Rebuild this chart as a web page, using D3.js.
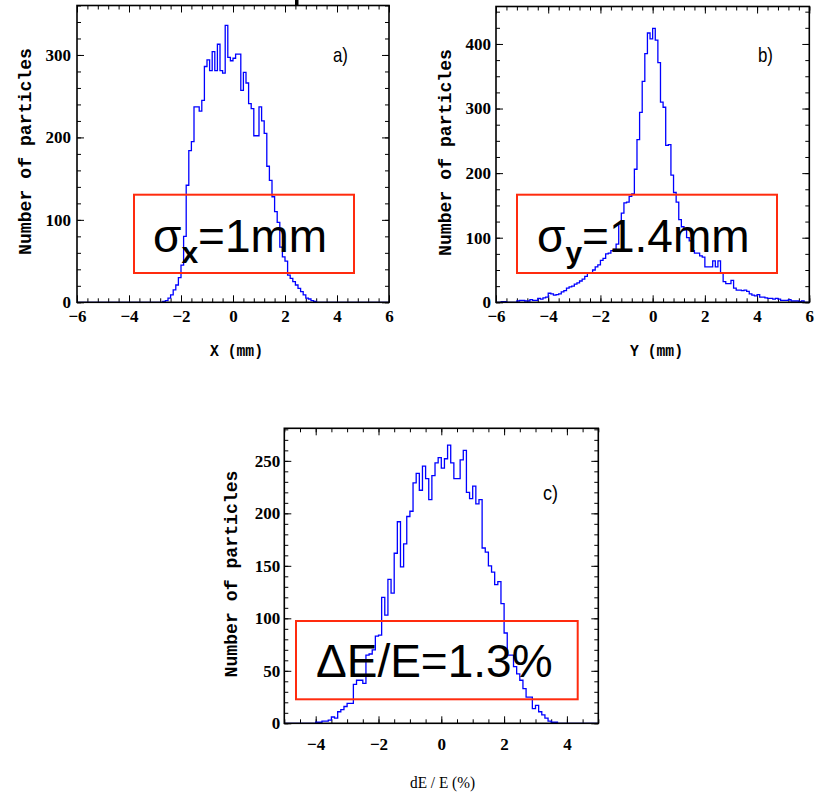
<!DOCTYPE html>
<html>
<head>
<meta charset="utf-8">
<script src="https://cdn.jsdelivr.net/npm/d3@7"></script>
<style>
  body { margin: 0; background: #fff; }
  svg { display: block; }
</style>
</head>
<body>
<script>

// histogram bin width (same for all three panels)
var binWidth = 0.1;

// panel a) horizontal position X (mm), first bin starts at xStartA
var xStartA = -2.7;
var countsA = [1, 2, 5, 9, 15, 21, 30, 45, 80, 142,
  184, 195, 237, 237, 232, 245, 286, 294, 281, 304,
  281, 313, 281, 278, 336, 297, 293, 296, 301, 301,
  257, 279, 266, 241, 235, 202, 202, 237, 220, 205,
  165, 148, 128, 110, 97, 67, 55, 50, 33, 29,
  25, 21, 17, 13, 9, 5, 4, 2, 1];

// panel b) vertical position Y (mm)
var xStartB = -5.8;
var countsB = [1, 1, 0, 0, 0, 0, 2, 3, 3, 2,
  2, 4, 3, 3, 6, 5, 7, 8, 14, 13,
  11, 12, 13, 16, 18, 22, 24, 25, 28, 30,
  33, 36, 40, 45, 46, 50, 55, 58, 65, 68,
  75, 76, 80, 82, 90, 122, 138, 154, 155, 164,
  168, 206, 252, 294, 342, 385, 417, 408, 424, 406,
  371, 310, 302, 243, 244, 197, 170, 155, 128, 117,
  112, 100, 95, 80, 76, 76, 72, 70, 55, 55,
  55, 64, 55, 64, 45, 32, 29, 29, 34, 22,
  19, 19, 18, 19, 17, 13, 11, 10, 12, 8,
  8, 7, 6, 6, 5, 6, 5, 3, 3, 3,
  4, 2, 2, 2, 1, 2];

// panel c) energy spread dE / E (%)
var xStartC = -4.0;
var countsC = [1, 1, 2, 2, 3, 6, 5, 11, 13, 16,
  19, 19, 37, 41, 41, 38, 65, 66, 70, 83,
  84, 120, 103, 137, 124, 162, 192, 149, 171, 197,
  202, 229, 238, 222, 245, 233, 213, 236, 248, 253,
  243, 252, 265, 248, 233, 233, 251, 260, 220, 214,
  226, 209, 213, 167, 163, 150, 144, 132, 135, 114,
  86, 65, 65, 54, 47, 41, 33, 25, 25, 14,
  17, 11, 8, 5, 2, 1, 1];

// tick labels
var xTicksAB = [-6, -4, -2, 0, 2, 4, 6];
var xTicksC = [-4, -2, 0, 2, 4];
var yTicksA = [0, 100, 200, 300];
var yTicksB = [0, 100, 200, 300, 400];
var yTicksC = [0, 50, 100, 150, 200, 250];

// annotation texts
var yTitle = "Number of particles";
var xTitles = ["X (mm)", "Y (mm)", "dE / E (%)"];
var panelTags = ["a)", "b)", "c)"];

var width = 820,
    height = 796;

var svg = d3.select("body")
  .append("svg")
  .attr("width", width)
  .attr("height", height);

svg.append("rect")
  .attr("width", width)
  .attr("height", height)
  .attr("fill", "#fff");

var majorLen = 7,
    minorLen = 4;

// draw one framed histogram panel
function drawPanel(p){

    var x = d3.scaleLinear().domain(p.xDomain).range([p.left, p.right]);
    var y = d3.scaleLinear().domain(p.yDomain).range([p.bottom, p.top]);

    var g = svg.append("g");

    function tidy(sel){
        sel.select(".domain").remove();
        sel.selectAll("line").attr("stroke", "#000").attr("stroke-width", 1);
        sel.attr("font-family", "'Liberation Serif', 'DejaVu Serif', serif")
          .attr("font-weight", "bold")
          .attr("font-size", 17);
        sel.selectAll("text").attr("fill", "#000");
    }

    // minor ticks, four sides, pointing inward
    g.append("g").attr("transform", "translate(0," + p.bottom + ")")
      .call(d3.axisBottom(x).tickValues(p.xMinor).tickSize(-minorLen).tickFormat(""))
      .call(tidy);
    g.append("g").attr("transform", "translate(0," + p.top + ")")
      .call(d3.axisTop(x).tickValues(p.xMinor).tickSize(-minorLen).tickFormat(""))
      .call(tidy);
    g.append("g").attr("transform", "translate(" + p.left + ",0)")
      .call(d3.axisLeft(y).tickValues(p.yMinor).tickSize(-minorLen).tickFormat(""))
      .call(tidy);
    g.append("g").attr("transform", "translate(" + p.right + ",0)")
      .call(d3.axisRight(y).tickValues(p.yMinor).tickSize(-minorLen).tickFormat(""))
      .call(tidy);

    // major ticks with labels
    g.append("g").attr("transform", "translate(0," + p.bottom + ")")
      .call(d3.axisBottom(x).tickValues(p.xTicks).tickSize(-majorLen).tickPadding(p.xPad).tickFormat(d3.format("d")))
      .call(tidy);
    g.append("g").attr("transform", "translate(0," + p.top + ")")
      .call(d3.axisTop(x).tickValues(p.xTicks).tickSize(-majorLen).tickFormat(""))
      .call(tidy);
    g.append("g").attr("transform", "translate(" + p.left + ",0)")
      .call(d3.axisLeft(y).tickValues(p.yTicks).tickSize(-majorLen).tickPadding(p.yPad).tickFormat(d3.format("d")))
      .call(tidy);
    g.append("g").attr("transform", "translate(" + p.right + ",0)")
      .call(d3.axisRight(y).tickValues(p.yTicks).tickSize(-majorLen).tickFormat(""))
      .call(tidy);

    // histogram as a step line, running along zero outside the filled bins
    var pts = [[p.xDomain[0], 0]];
    p.counts.forEach(function(c, i){
        pts.push([p.xStart + i * binWidth, c]);
    });
    pts.push([p.xStart + p.counts.length * binWidth, 0]);
    pts.push([p.xDomain[1], 0]);

    var line = d3.line()
      .x(function(d){ return x(d[0]); })
      .y(function(d){ return y(d[1]); })
      .curve(d3.curveStepAfter);

    g.append("path")
      .datum(pts)
      .attr("d", line)
      .attr("fill", "none")
      .attr("stroke", "#0000ff")
      .attr("stroke-width", 1.3);

    // frame
    g.append("rect")
      .attr("x", p.left)
      .attr("y", p.top)
      .attr("width", p.right - p.left)
      .attr("height", p.bottom - p.top)
      .attr("fill", "none")
      .attr("stroke", "#000")
      .attr("stroke-width", 1.6);

    // y title
    g.append("text")
      .attr("transform", "translate(" + p.yTitleX + "," + p.yTitleY + ") rotate(-90)")
      .attr("text-anchor", "middle")
      .attr("font-family", "'Liberation Mono', 'DejaVu Sans Mono', monospace")
      .attr("font-weight", "bold")
      .attr("font-size", 18)
      .attr("textLength", 207)
      .attr("lengthAdjust", "spacingAndGlyphs")
      .text(yTitle);

    // x title
    g.append("text")
      .attr("x", p.xTitleX)
      .attr("y", p.xTitleY)
      .attr("text-anchor", "middle")
      .attr("font-family", p.xTitleFont)
      .attr("font-weight", p.xTitleWeight)
      .attr("font-size", p.xTitleSize)
      .attr("textLength", p.xTitleLen)
      .attr("lengthAdjust", "spacingAndGlyphs")
      .text(p.xTitle);

    // panel tag
    g.append("text")
      .attr("x", p.tagX)
      .attr("y", p.tagY)
      .attr("font-family", "'Liberation Sans', Arial, sans-serif")
      .attr("font-size", 21)
      .attr("textLength", 15)
      .attr("lengthAdjust", "spacingAndGlyphs")
      .text(p.tag);

    // red annotation box
    g.append("rect")
      .attr("x", p.box[0])
      .attr("y", p.box[1])
      .attr("width", p.box[2])
      .attr("height", p.box[3])
      .attr("fill", "none")
      .attr("stroke", "#ff2b0e")
      .attr("stroke-width", 2);

    var t = g.append("text")
      .attr("x", p.noteX)
      .attr("y", p.noteY)
      .attr("font-family", "'Liberation Sans', Arial, sans-serif")
      .attr("font-size", 46)
      .attr("fill", "#000");
    p.note.forEach(function(n){
        t.append("tspan")
          .attr("dy", n.dy)
          .attr("font-size", n.size)
          .attr("font-weight", n.bold ? "bold" : "normal")
          .text(n.text);
    });
}

drawPanel({
    left: 77, right: 389, top: 5.5, bottom: 302.3,
    xDomain: [-6, 6], yDomain: [0, 360],
    xTicks: xTicksAB, xMinor: d3.range(-6, 6.01, 0.4),
    yTicks: yTicksA, yMinor: d3.range(0, 361, 20),
    xPad: 8, yPad: 6,
    xStart: xStartA, counts: countsA,
    yTitleX: 31, yTitleY: 151.5,
    xTitle: xTitles[0], xTitleX: 236.5, xTitleY: 356, xTitleLen: 53,
    xTitleFont: "'Liberation Mono', monospace", xTitleWeight: "bold", xTitleSize: 17,
    tag: panelTags[0], tagX: 333, tagY: 61.5,
    box: [134, 194.7, 220, 78.3],
    noteX: 153, noteY: 251.7,
    note: [
      {text: "\u03c3", dy: 0, size: 46},
      {text: "x", dy: 11, size: 30, bold: true},
      {text: "=1mm", dy: -11, size: 46}
    ]
});

drawPanel({
    left: 496, right: 809.3, top: 6.5, bottom: 302.3,
    xDomain: [-6, 6], yDomain: [0, 458],
    xTicks: xTicksAB, xMinor: d3.range(-6, 6.01, 0.4),
    yTicks: yTicksB, yMinor: d3.range(0, 451, 25),
    xPad: 8, yPad: 5,
    xStart: xStartB, counts: countsB,
    yTitleX: 451, yTitleY: 152.5,
    xTitle: xTitles[1], xTitleX: 656.5, xTitleY: 356, xTitleLen: 53,
    xTitleFont: "'Liberation Mono', monospace", xTitleWeight: "bold", xTitleSize: 17,
    tag: panelTags[1], tagX: 758, tagY: 62,
    box: [517, 194.7, 260, 78.3],
    noteX: 537, noteY: 251.7,
    note: [
      {text: "\u03c3", dy: 0, size: 46},
      {text: "y", dy: 11, size: 30, bold: true},
      {text: "=1.4mm", dy: -11, size: 46}
    ]
});

drawPanel({
    left: 284.3, right: 598.3, top: 428.3, bottom: 723.3,
    xDomain: [-5, 5], yDomain: [0, 281],
    xTicks: xTicksC, xMinor: d3.range(-5, 5.01, 0.5),
    yTicks: yTicksC, yMinor: d3.range(0, 281, 10),
    xPad: 15, yPad: 4,
    xStart: xStartC, counts: countsC,
    yTitleX: 237, yTitleY: 574,
    xTitle: xTitles[2], xTitleX: 442.5, xTitleY: 788, xTitleLen: 65,
    xTitleFont: "'Liberation Serif', serif", xTitleWeight: "normal", xTitleSize: 17,
    tag: panelTags[2], tagX: 543, tagY: 500,
    box: [296, 621, 281.7, 78.3],
    noteX: 316, noteY: 677,
    note: [
      {text: "\u0394E/E=1.3%", dy: 0, size: 46}
    ]
});

// clipped remnant of the slide title above panel a
svg.append("rect")
  .attr("x", 295)
  .attr("y", 0)
  .attr("width", 3.5)
  .attr("height", 5)
  .attr("fill", "#000");

</script>
</body>
</html>
